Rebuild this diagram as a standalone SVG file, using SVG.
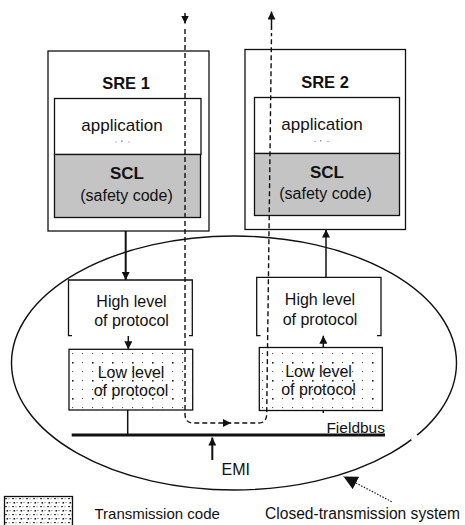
<svg xmlns="http://www.w3.org/2000/svg" width="465" height="525" viewBox="0 0 465 525">
  <style>
    text { font-family: "Liberation Sans", Arial, Helvetica, sans-serif; fill: #111; }
    .box { fill: #fff; stroke: #111; stroke-width: 1.3; }
    .scl { fill: #c4c4c4; stroke: #111; stroke-width: 1.3; }
    .open { fill: none; stroke: #111; stroke-width: 1.3; }
    .lbl { font-size: 16px; text-anchor: middle; }
    .bold { font-weight: bold; font-size: 16.5px; text-anchor: middle; }
    .wire { fill: none; stroke: #111; stroke-width: 1.5; }
    .dash { fill: none; stroke: #111; stroke-width: 1.4; stroke-dasharray: 5 3; }
  </style>
  <defs>
    <marker id="arr" viewBox="0 0 10 10" refX="10" refY="5" markerWidth="6" markerHeight="6" markerUnits="userSpaceOnUse" orient="auto">
      <path d="M0,0 L10,5 L0,10 z" fill="#111"/>
    </marker>
    <marker id="arrBig" viewBox="0 0 10 10" refX="10" refY="5" markerWidth="8" markerHeight="8" markerUnits="userSpaceOnUse" orient="auto">
      <path d="M0,0 L10,5 L0,10 z" fill="#111"/>
    </marker>
    <marker id="arrWide" viewBox="0 0 10 10" refX="10" refY="5" markerWidth="14" markerHeight="14" markerUnits="userSpaceOnUse" orient="auto">
      <path d="M0,0 L10,5 L0,10 z" fill="#111"/>
    </marker>
    <!-- sparse dot texture for the low protocol layers -->
    <pattern id="dots" patternUnits="userSpaceOnUse" x="69" y="349" width="20" height="18">
      <rect x="3" y="4" width="1.1" height="1.1" fill="#555"/>
      <rect x="13" y="4" width="1.1" height="1.1" fill="#555"/>
      <rect x="3" y="13" width="1.6" height="1.6" fill="#222"/>
      <rect x="13" y="13" width="1.1" height="1.1" fill="#555"/>
    </pattern>
    <!-- dense dot texture for the legend swatch -->
    <pattern id="dense" patternUnits="userSpaceOnUse" x="4" y="496" width="7" height="8">
      <rect x="1" y="2" width="2" height="1.2" fill="#444"/>
      <rect x="4.5" y="2.3" width="1" height="1" fill="#666"/>
      <rect x="2.5" y="6" width="1.6" height="1.6" fill="#222"/>
      <rect x="5.5" y="6" width="1" height="1" fill="#555"/>
    </pattern>
  </defs>

  <!-- closed transmission system boundary -->
  <g id="closed-system">
    <ellipse cx="234" cy="363" rx="222.5" ry="127" fill="none" stroke="#111" stroke-width="1.4"/>
    <line x1="412" y1="440.5" x2="417.5" y2="435.5" stroke="#fff" stroke-width="4"/>
  </g>

  <!-- safety-related equipment 1 -->
  <g id="sre1">
    <rect class="box" x="48" y="51" width="161" height="180"/>
    <text class="bold" x="126" y="89">SRE 1</text>
    <rect class="box" x="54.5" y="98.5" width="146.5" height="56"/>
    <text class="lbl" x="122" y="131" style="font-size:17px">application</text>
    <rect x="115" y="141.5" width="2" height="1" fill="#bbb"/>
    <rect x="121" y="140.5" width="1.5" height="1.5" fill="#999"/>
    <rect x="128" y="141.5" width="2" height="1" fill="#bbb"/>
    <rect class="scl" x="54.5" y="154.5" width="146" height="63"/>
    <text class="bold" x="127" y="179" style="font-size:17px">SCL</text>
    <text class="lbl" x="126.5" y="201">(safety code)</text>
  </g>

  <!-- safety-related equipment 2 -->
  <g id="sre2">
    <rect class="box" x="245" y="49.5" width="160.5" height="180"/>
    <text class="bold" x="325" y="88">SRE 2</text>
    <rect class="box" x="254.5" y="97.5" width="145" height="56"/>
    <text class="lbl" x="322" y="130" style="font-size:17px">application</text>
    <rect x="314" y="141" width="2" height="1" fill="#bbb"/>
    <rect x="320" y="140" width="1.5" height="1.5" fill="#999"/>
    <rect x="327" y="141" width="2" height="1" fill="#bbb"/>
    <rect class="scl" x="254.5" y="153.5" width="145" height="62"/>
    <text class="bold" x="327" y="177.5" style="font-size:17px">SCL</text>
    <text class="lbl" x="325.5" y="199">(safety code)</text>
  </g>

  <!-- protocol layers, left side -->
  <g id="high-left">
    <path class="open" d="M72,335.7 H68.5 V280 H192.3 V335.7 H189"/>
    <text class="lbl" x="131.5" y="307">High level</text>
    <text class="lbl" x="131.5" y="326">of protocol</text>
  </g>
  <g id="low-left">
    <rect x="69" y="349.3" width="123.7" height="60.7" fill="url(#dots)" stroke="#111" stroke-width="1.3"/>
    <text class="lbl" x="131" y="377.5">Low level</text>
    <text class="lbl" x="131" y="395.5">of protocol</text>
  </g>

  <!-- protocol layers, right side -->
  <g id="high-right">
    <path class="open" d="M260.5,335.7 H256.7 V277.3 H381 V335.7 H377"/>
    <text class="lbl" x="320" y="305">High level</text>
    <text class="lbl" x="320" y="325">of protocol</text>
  </g>
  <g id="low-right">
    <rect x="259.3" y="347.5" width="123" height="63" fill="url(#dots)" stroke="#111" stroke-width="1.3"/>
    <text class="lbl" x="318.5" y="377">Low level</text>
    <text class="lbl" x="318.5" y="395">of protocol</text>
  </g>

  <!-- fieldbus -->
  <g id="fieldbus">
    <line x1="71.7" y1="435" x2="385" y2="435" stroke="#111" stroke-width="3"/>
    <text x="385" y="432.5" text-anchor="end" style="font-size:15.5px">Fieldbus</text>
  </g>

  <!-- EMI disturbance -->
  <g id="emi">
    <text x="221.5" y="475" style="font-size:16px">EMI</text>
  </g>

  <!-- legend -->
  <g id="legend">
    <rect x="4.5" y="496.5" width="68" height="32" fill="url(#dense)" stroke="#111" stroke-width="1.3"/>
    <text x="94.5" y="518.5" style="font-size:15px">Transmission code</text>
    <text x="265" y="518.5" style="font-size:15.6px">Closed-transmission system</text>
  </g>

  <!-- connectors -->
  <g id="connectors">
    <line x1="125.7" y1="231" x2="125.7" y2="280" stroke="#111" stroke-width="2" marker-end="url(#arrBig)"/>
    <line x1="128.3" y1="336" x2="128.3" y2="349.3" class="wire" marker-end="url(#arrBig)"/>
    <line x1="127.7" y1="410" x2="127.7" y2="434" class="wire"/>
    <line x1="326" y1="277.3" x2="326" y2="229.5" class="wire" marker-end="url(#arrBig)"/>
    <line x1="323.3" y1="347.5" x2="323.3" y2="335.7" class="wire" marker-end="url(#arrBig)"/>
    <line x1="323.3" y1="410.5" x2="323.3" y2="413" class="wire"/>
    <!-- EMI into the bus -->
    <line x1="212.3" y1="460" x2="212.3" y2="437.5" stroke="#111" stroke-width="2" marker-end="url(#arrBig)"/>
    <!-- end-to-end safety message path -->
    <line x1="185" y1="13" x2="185" y2="23.5" class="wire" marker-end="url(#arrBig)"/>
    <path class="dash" d="M185,29 V414 Q185,423 193,423 H259 Q266.5,423 266.7,414 L271.5,33"/>
    <line x1="215" y1="423" x2="231" y2="423" stroke="none" marker-end="url(#arrBig)"/>
    <line x1="271.5" y1="30" x2="271.5" y2="11.5" class="wire" marker-end="url(#arrBig)"/>
    <!-- pointer to the closed system boundary -->
    <line x1="391.7" y1="501.7" x2="343.5" y2="476.5" stroke="#111" stroke-width="1.1" stroke-dasharray="1.5 1.5" marker-end="url(#arrWide)"/>
  </g>
</svg>
